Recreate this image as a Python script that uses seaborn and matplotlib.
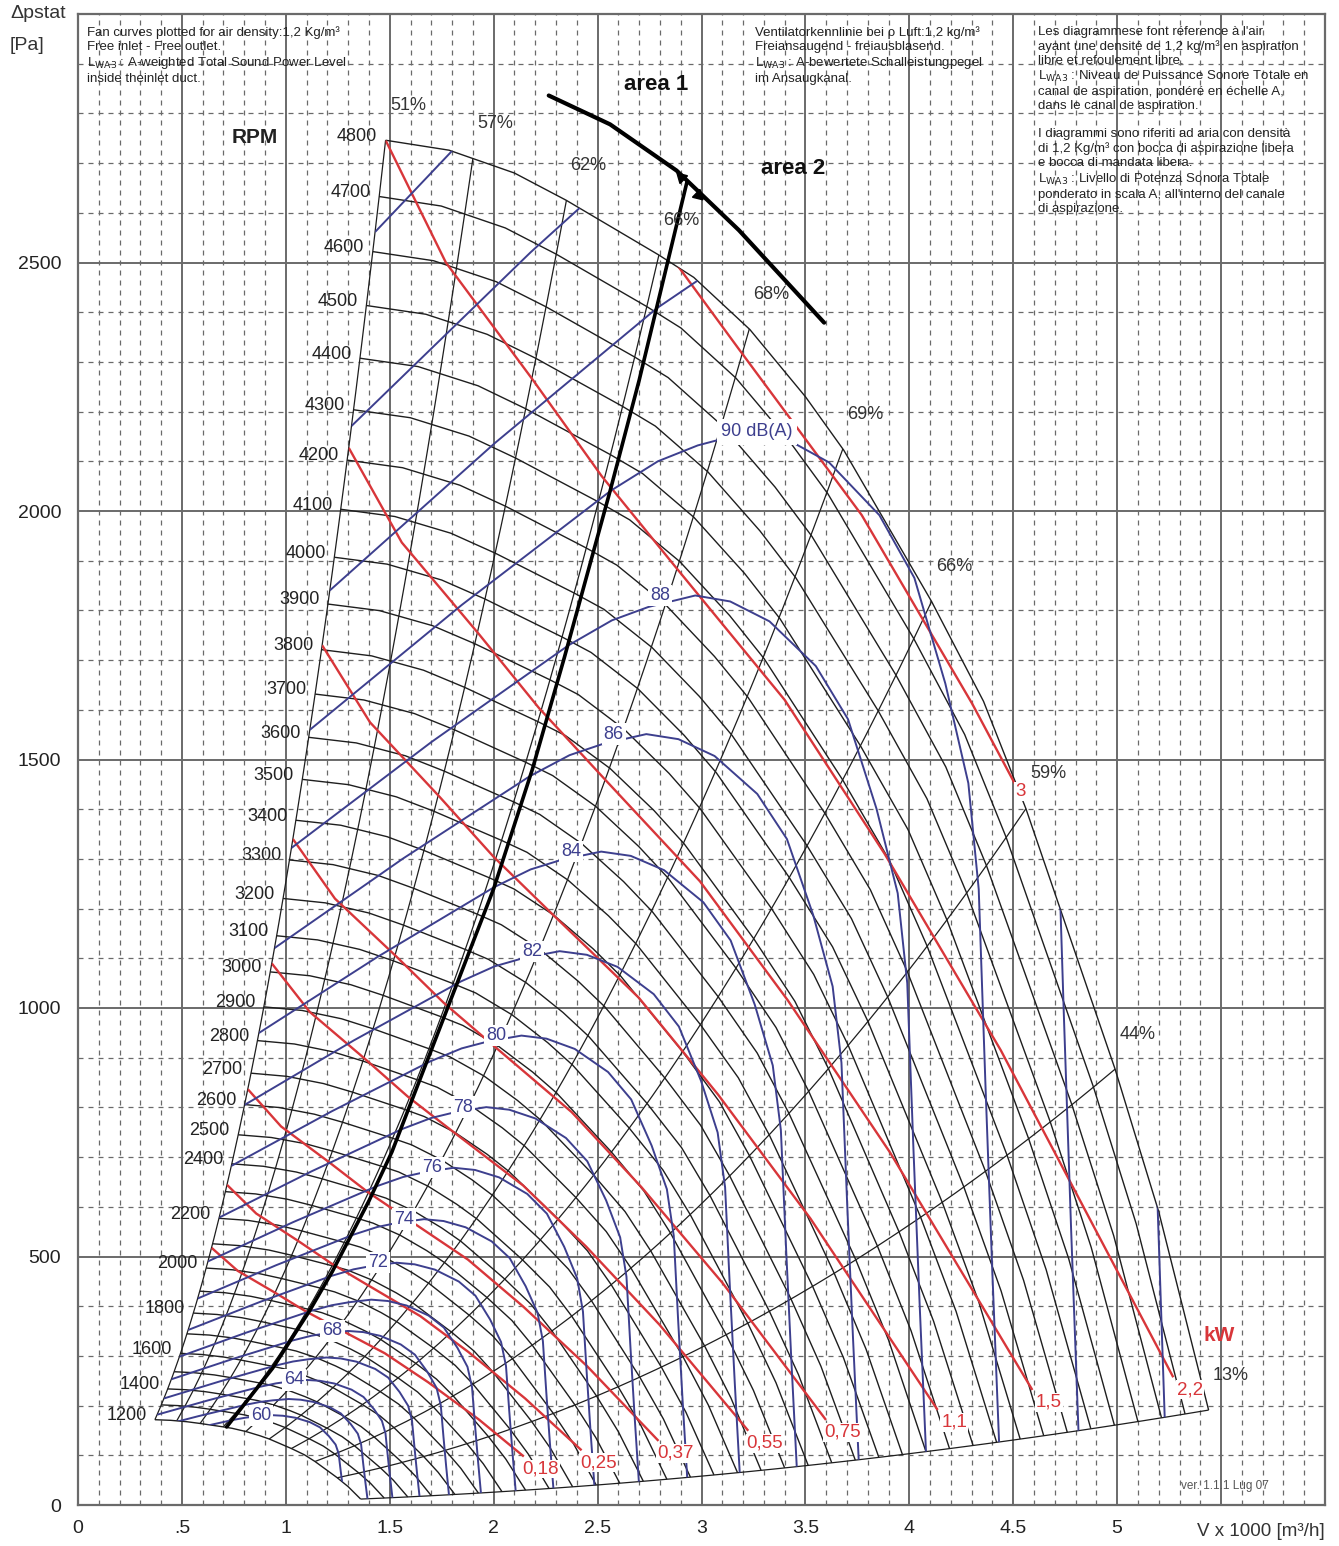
import numpy as np
import pandas as pd
import matplotlib
matplotlib.use("Agg")
import matplotlib.pyplot as plt
import seaborn as sns
from matplotlib.patches import Polygon

# ---------------- data ----------------
# fan curve at the reference speed (4800 rpm): flow (x1000 m3/h) and static pressure (Pa)
base_rpm = 4800
base_q = [1.48, 1.785, 2.10, 2.35, 2.795, 2.963, 3.233, 3.50, 3.685, 4.107, 4.357, 4.561, 4.99, 5.20, 5.44]
base_p = [2746, 2726, 2680, 2625, 2515, 2470, 2365, 2230, 2122, 1818, 1617, 1401, 877, 590, 191]

rpm_values = list(range(1200, 4801, 100))
rpm_labels = [1200, 1400, 1600, 1800, 2000, 2200, 2400] + list(range(2500, 4801, 100))

# efficiency lines (point where they meet the 4800 rpm curve)
eff_top_q = [1.48, 1.90, 2.35, 2.795, 3.23, 3.68, 4.107, 4.561, 4.99, 5.44]
eff_labels = ["51%", "57%", "62%", "66%", "68%", "69%", "66%", "59%", "44%", "13%"]

# absorbed power lines (kW): reference line 2.2 kW, others follow the fan laws
kw_values = [0.18, 0.25, 0.37, 0.55, 0.75, 1.1, 1.5, 2.2, 3]
kw_labels = ["0,18", "0,25", "0,37", "0,55", "0,75", "1,1", "1,5", "2,2", "3"]
kw_end_q = [2.145, 2.423, 2.793, 3.225, 3.599, 4.136, 4.592, 5.27, 4.52]
kw_ref = 2.2
kw_ref_q = [1.48, 1.77, 2.19, 2.52, 2.87, 3.40, 3.88, 4.44, 5.27]
kw_ref_p = [2746, 2500, 2263, 2070, 1890, 1620, 1311, 915, 257]

# sound power lines dB(A): reference line 88 dB(A)
db_levels = list(range(60, 97, 2))
db_label_levels = [60, 64, 68, 72, 74, 76, 78, 80, 82, 84, 86, 88, 90]
db_ref = 88
db_per_decade = 55.7
db_ref_q = [1.027, 1.70, 2.361, 2.569, 2.745, 2.97, 3.138, 3.327, 3.55, 3.705, 3.842, 3.944, 3.99, 4.02, 4.05, 4.085]
db_ref_p = [1322, 1535, 1730, 1780, 1807, 1830, 1818, 1778, 1688, 1581, 1401, 1231, 1050, 714, 400, 60]
db_label_q, db_label_p = 2.80, 1830

# thick black line (best efficiency) and area limit curve
best_q = [0.715, 0.936, 1.113, 1.224, 1.40, 1.51, 2.0, 2.186, 2.34, 2.56, 2.70, 2.93]
best_p = [157, 275, 390, 470, 612, 710, 1240, 1480, 1705, 2040, 2263, 2662]
area_q = [2.265, 2.56, 2.88, 3.18, 3.59]
area_p = [2836, 2778, 2685, 2565, 2379]

x_ticks = [0, 0.5, 1, 1.5, 2, 2.5, 3, 3.5, 4, 4.5, 5, 5.5]
x_tick_labels = ["0", ".5", "1", "1.5", "2", "2.5", "3", "3.5", "4", "4.5", "5", ""]
y_ticks = [0, 500, 1000, 1500, 2000, 2500]

# ---------------- style ----------------
sns.set_style("white")
plt.rcParams["font.family"] = ["Liberation Sans", "DejaVu Sans"]

W, H = 1339, 1546
fig = plt.figure(figsize=(W / 100, H / 100), dpi=100)
ax = fig.add_axes([78 / W, 1 - 1505 / H, (1325 - 78) / W, (1505 - 14) / H])
ax.set_xlim(0, 6)
ax.set_ylim(0, 3000)

GRID = "#6a6a6a"
BLUE = "#3d3f8e"
RED = "#d8363a"
DARK = "#1e1e1e"

ax.set_xticks(x_ticks)
ax.set_xticklabels(x_tick_labels)
ax.set_yticks(y_ticks)
ax.set_xticks(np.arange(0, 6.001, 0.1), minor=True)
ax.set_yticks(np.arange(0, 3001, 100), minor=True)
ax.tick_params(which="major", direction="out", length=5, width=1.2, color=GRID,
               labelsize=14, labelcolor="#222")
ax.tick_params(axis="y", pad=7)
ax.tick_params(axis="x", pad=6)
ax.tick_params(which="minor", length=0)
ax.grid(False)
for v in np.arange(0, 6.001, 0.5):
    ax.axvline(v, color=GRID, lw=1.4, zorder=0.5)
for v in np.arange(0, 3001, 500):
    ax.axhline(v, color=GRID, lw=1.4, zorder=0.5)
for v in np.arange(0.1, 6.0, 0.1):
    if abs(v * 2 - round(v * 2)) > 1e-6:
        ax.axvline(v, color=GRID, lw=0.9, ls=(0, (4, 4)), zorder=0.4)
for v in np.arange(100, 3000, 100):
    if v % 500:
        ax.axhline(v, color=GRID, lw=0.9, ls=(0, (4, 4)), zorder=0.4)
for s in ax.spines.values():
    s.set_color(GRID)
    s.set_linewidth(1.6)

bq = np.array(base_q)
bp = np.array(base_p)
ratios = np.array(rpm_values) / base_rpm

# region of validity (used to clip the sound and power lines)
left_b = [(r * bq[0], r * r * bp[0]) for r in ratios]
bottom_b = [(r * bq[-1], r * r * bp[-1]) for r in ratios[::-1]]
low_curve = [(ratios[0] * q, ratios[0] ** 2 * p) for q, p in zip(bq[::-1], bp[::-1])]
region = left_b + list(zip(bq, bp)) + bottom_b + low_curve
clip = Polygon(region, closed=True, transform=ax.transData, fc="none", ec="none")
ax.add_patch(clip)


def family(rows, color, lw, z, clip_path=None):
    df = pd.DataFrame(rows, columns=["q", "p", "curve"])
    n0 = len(ax.lines)
    sns.lineplot(data=df, x="q", y="p", units="curve", estimator=None, sort=False,
                 color=color, lw=lw, ax=ax, legend=False)
    for ln in ax.lines[n0:]:
        ln.set_zorder(z)
        ln.set_solid_capstyle("butt")
        if clip_path is not None:
            ln.set_clip_path(clip_path)


# rpm curves
rows = []
for rpm, r in zip(rpm_values, ratios):
    for q, p in zip(bq, bp):
        rows.append((r * q, r * r * p, rpm))
family(rows, DARK, 1.0, 2)

# efficiency lines
rows = []
eff_tops = []
for i, q_top in enumerate(eff_top_q):
    p_top = float(np.interp(q_top, bq, bp))
    eff_tops.append((q_top, p_top))
    for r in np.linspace(ratios[0], 1, 40):
        rows.append((r * q_top, r * r * p_top, i))
family(rows, DARK, 0.9, 2)

# power lines
rows = []
kw_ends = []
for i, (kw, qend) in enumerate(zip(kw_values, kw_end_q)):
    s = (kw / kw_ref) ** (1 / 3)
    qs = s * np.array(kw_ref_q)
    ps = s * s * np.array(kw_ref_p)
    pend = float(np.interp(qend, qs, ps))
    keep = qs < qend
    for q, p in zip(qs[keep], ps[keep]):
        rows.append((q, p, i))
    rows.append((qend, pend, i))
    kw_ends.append((qend, pend))
family(rows, RED, 1.7, 3, clip)

# sound lines
rows = []
for L in db_levels:
    s = 10 ** ((L - db_ref) / db_per_decade)
    for q, p in zip(db_ref_q, db_ref_p):
        rows.append((s * q, s * s * p, L))
family(rows, BLUE, 1.4, 3, clip)

# best-efficiency line and area limit
sns.lineplot(x=best_q, y=best_p, sort=False, color="black", lw=2.6, ax=ax, zorder=4)
sns.lineplot(x=area_q, y=area_p, sort=False, color="black", lw=3.0, ax=ax, zorder=4)
ax.plot([2.90], [2672], marker=(3, 0, 46), ms=9, color="black", zorder=5)
ax.plot([2.985], [2636], marker=(3, 0, -134), ms=9, color="black", zorder=5)

# ---------------- labels ----------------
for rpm, r in zip(rpm_values, ratios):
    if rpm in rpm_labels:
        ax.annotate(str(rpm), (r * bq[0], r * r * bp[0]), xytext=(-6, 3),
                    textcoords="offset points", ha="right", va="center",
                    fontsize=13, color="#222", zorder=6)

for (q, p), lab in zip(eff_tops, eff_labels):
    ax.annotate(lab, (q, p), xytext=(16, 25), textcoords="offset points",
                ha="center", va="center", fontsize=13, color="#333", zorder=6)

for (q, p), lab in zip(kw_ends, kw_labels):
    off = (2, -2) if lab == "3" else (12, -9)
    ax.annotate(lab, (q, p), xytext=off, textcoords="offset points", ha="center",
                va="center", fontsize=13.5, color=RED, zorder=6,
                bbox=dict(boxstyle="square,pad=0.05", fc="white", ec="none"))

for L in db_label_levels:
    s = 10 ** ((L - db_ref) / db_per_decade)
    pt = (s * db_label_q, s * s * db_label_p)
    if L == 90:
        ax.annotate("90 dB(A)", pt, xytext=(8, 0), textcoords="offset points",
                    ha="left", va="center", fontsize=13, color=BLUE, zorder=6,
                    bbox=dict(boxstyle="square,pad=0.25", fc="white", ec="none"))
    else:
        ax.annotate(str(L), pt, ha="center", va="center", fontsize=13, color=BLUE,
                    zorder=6, bbox=dict(boxstyle="square,pad=0.12", fc="white", ec="none"))

ax.text(0.849, 2751, "RPM", fontsize=15, fontweight="bold", ha="center", va="center",
        color="#222", zorder=6)
ax.text(2.78, 2858, "area 1", fontsize=16, fontweight="bold", ha="center", va="center",
        color="#111", zorder=6)
ax.text(3.44, 2689, "area 2", fontsize=16, fontweight="bold", ha="center", va="center",
        color="#111", zorder=6)
ax.text(5.49, 341, "kW", fontsize=15, fontweight="bold", ha="center", va="center",
        color=RED, zorder=6)
ax.text(5.52, 38, "ver. 1.1.1 Lug 07", fontsize=8.5, ha="center", va="center",
        color="#555", zorder=6)

fig.text(10 / W, 1 - 14 / H, "Δpstat", fontsize=14, ha="left", va="center", color="#333")
fig.text(10 / W, 1 - 45 / H, "[Pa]", fontsize=14, ha="left", va="center", color="#333")
fig.text(1325 / W, 1 - 1531 / H, "V x 1000 [m³/h]", fontsize=13.5, ha="right",
         va="center", color="#333")

txt_kw = dict(fontsize=9.5, ha="left", va="top", color="#222", linespacing=1.22)
fig.text(87 / W, 1 - 26 / H,
         "Fan curves plotted for air density:1,2 Kg/m³\n"
         "Free inlet - Free outlet.\n"
         "L$_{\\rm WA3}$ : A-weighted Total Sound Power Level\n"
         "inside theinlet duct.", **txt_kw)
fig.text(755 / W, 1 - 26 / H,
         "Ventilatorkennlinie bei ρ Luft:1,2 kg/m³\n"
         "Freiansaugend - freiausblasend.\n"
         "L$_{\\rm WA3}$ : A-bewertete Schalleistungpegel\n"
         "im Ansaugkanal.", **txt_kw)
fig.text(1038 / W, 1 - 26 / H,
         "Les diagrammese font réference à l'air\n"
         "ayant une densité de 1,2 kg/m³ en aspiration\n"
         "libre et refoulement libre.\n"
         "L$_{\\rm WA3}$ : Niveau de Puissance Sonore Totale en\n"
         "canal de aspiration, pondéré en échelle A,\n"
         "dans le canal de aspiration.\n"
         "\n"
         "I diagrammi sono riferiti ad aria con densità\n"
         "di 1,2 Kg/m³ con bocca di aspirazione libera\n"
         "e bocca di mandata libera.\n"
         "L$_{\\rm WA3}$ : Livello di Potenza Sonora Totale\n"
         "ponderato in scala A, all'interno del canale\n"
         "di aspirazione.", **txt_kw)

ax.set_xlabel("")
ax.set_ylabel("")
fig.savefig("out.png", dpi=100, facecolor="white")
